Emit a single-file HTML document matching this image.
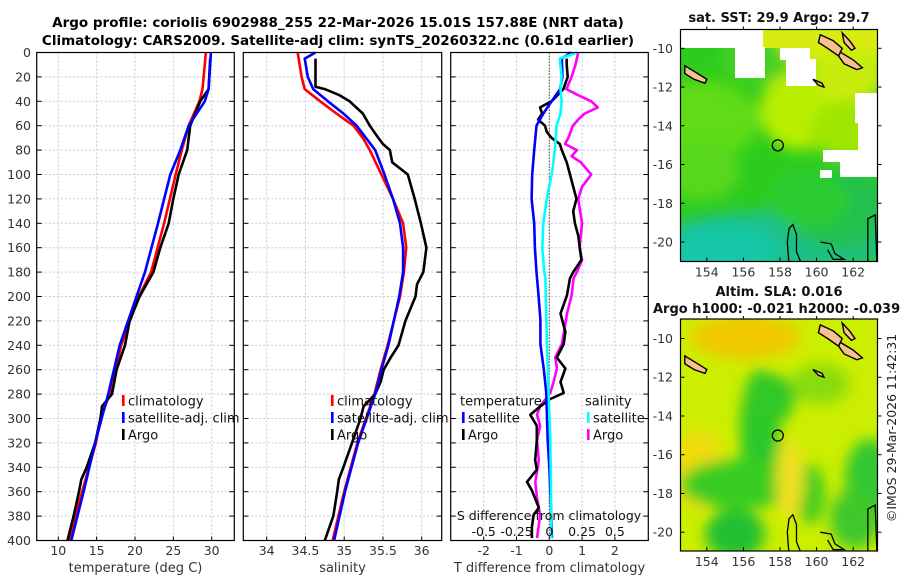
<!DOCTYPE html>
<html><head><meta charset="utf-8">
<style>
html,body{margin:0;padding:0;background:#fff;}
body{width:900px;height:580px;overflow:hidden;font-family:"Liberation Sans","DejaVu Sans",sans-serif;}
svg text{font-family:"DejaVu Sans","Liberation Sans",sans-serif;}
</style></head>
<body>
<svg id="fig" width="900" height="580" viewBox="0 0 900 580" xmlns="http://www.w3.org/2000/svg">
<defs>
<filter id="blur6" x="-30%" y="-30%" width="160%" height="160%"><feGaussianBlur stdDeviation="7"/></filter>
<clipPath id="clipTop"><rect x="680.5" y="29.5" width="197" height="232"/></clipPath>
<clipPath id="clipBot"><rect x="680.5" y="319" width="197" height="232"/></clipPath>
</defs>
<text x="338" y="27" font-size="13.5" font-weight="bold" text-anchor="middle">Argo profile: coriolis 6902988_255 22-Mar-2026 15.01S 157.88E (NRT data)</text>
<text x="338" y="45" font-size="13.5" font-weight="bold" text-anchor="middle">Climatology: CARS2009. Satellite-adj clim: synTS_20260322.nc (0.61d earlier)</text>
<g id="plots"></g>
<g id="maps"></g>
</svg>
<script>
// ---------- DATA ----------
const depthTicks = [0,20,40,60,80,100,120,140,160,180,200,220,240,260,280,300,320,340,360,380,400];
const tempTicks = [10,15,20,25,30];
const salTicks = [34,34.5,35,35.5,36];
const salTickLabels = ["34","34.5","35","35.5","36"];
const tdiffTicks = [-2,-1,0,1,2];
const sdiffTicks = [-0.5,-0.25,0,0.25,0.5];
const sdiffTickLabels = ["-0.5","-0.25","0","0.25","0.5"];

const tClimDepth = [0,30,40,60,80,100,140,180,200,240,280,300,320,360,400];
const tClimVal   = [29.25,28.8,28.4,27.0,26.1,25.3,23.8,22.1,20.5,18.2,16.7,15.5,14.9,13.1,11.4];
const tSatDepth  = [0,30,40,60,80,100,140,180,200,240,280,320,360,400];
const tSatVal    = [29.9,29.6,29.1,27.0,25.9,24.6,23.0,21.3,20.2,18.0,16.5,14.8,13.3,11.7];
const tArgoDepth = [5,30,40,60,80,100,120,140,160,180,200,220,240,260,280,290,300,320,340,350,360,380,400];
const tArgoVal   = [29.8,29.6,28.5,27.2,26.8,25.7,25.0,24.4,23.3,22.4,20.6,19.3,18.7,17.6,17.0,15.7,15.5,14.8,13.7,13.0,12.7,12.0,11.2];

const sClimDepth = [0,20,30,40,50,60,70,80,100,120,140,160,180,200,240,260,280,300,320,360,400];
const sClimVal   = [34.40,34.45,34.49,34.69,34.90,35.12,35.24,35.33,35.48,35.63,35.76,35.80,35.77,35.72,35.56,35.47,35.39,35.28,35.17,35.00,34.85];
const sSatDepth  = [0,5,20,30,40,50,60,80,100,120,140,160,180,200,240,260,280,300,320,360,400];
const sSatVal    = [34.63,34.49,34.53,34.60,34.79,34.99,35.16,35.40,35.52,35.63,35.72,35.76,35.76,35.71,35.57,35.48,35.40,35.29,35.18,35.01,34.87];
const sArgoDepth = [5,28,30,35,40,50,60,70,75,80,90,100,120,140,160,180,190,200,220,240,250,260,270,280,290,300,320,340,350,360,380,400];
const sArgoVal   = [34.63,34.63,34.75,34.94,35.07,35.24,35.33,35.44,35.50,35.59,35.62,35.82,35.91,35.99,36.06,36.02,35.94,35.92,35.79,35.70,35.60,35.51,35.47,35.40,35.25,35.21,35.10,34.99,34.93,34.91,34.86,34.75];

const dTSatDepth = [0,5,20,30,40,50,60,80,100,120,140,160,180,199,219,239,259,279,299,318,339,359,379,398];
const dTSatVal   = [0.66,0.38,0.4,0.33,0.07,-0.18,-0.39,-0.46,-0.52,-0.54,-0.46,-0.44,-0.39,-0.33,-0.27,-0.27,-0.17,-0.09,-0.07,-0.05,0,0.03,0.06,0.08];
const dTArgoDepth = [5,10,20,30,40,45,50,55,60,65,70,75,80,90,100,110,120,130,140,150,160,170,180,185,199,214,229,239,250,259,270,279,284,290,297,306,318,334,342,352,359,373,379,389,398];
const dTArgoVal   = [0.53,0.53,0.56,0.43,0.07,-0.28,-0.22,-0.34,-0.13,-0.08,0.07,0.32,0.38,0.53,0.63,0.73,0.83,0.73,0.78,0.88,0.93,0.98,0.73,0.63,0.54,0.34,0.49,0.44,0.23,0.49,0.34,0.44,0.03,-0.27,-0.58,-0.38,-0.38,-0.43,-0.38,-0.68,-0.53,-0.32,-0.48,-0.53,-0.53];
const dSSatDepth = [0,5,20,30,40,50,60,80,100,120,140,160,180,185,239,279,318,359,398];
const dSSatVal   = [0.21,0.08,0.094,0.085,0.094,0.085,0.056,0.043,0.018,-0.02,-0.046,-0.053,-0.038,-0.03,-0.018,-0.005,0.008,0.013,0.015];
const dSArgoDepth = [0,10,20,30,35,40,45,50,55,60,70,75,80,85,90,100,110,120,140,160,170,180,185,199,214,239,250,259,270,279,290,297,306,318,334,352,365,379,398];
const dSArgoVal   = [0.22,0.2,0.17,0.13,0.22,0.32,0.37,0.27,0.22,0.18,0.145,0.12,0.21,0.17,0.24,0.32,0.25,0.22,0.25,0.23,0.25,0.21,0.185,0.17,0.135,0.096,0.046,0.058,0.033,0.008,-0.07,-0.094,-0.07,-0.094,-0.08,-0.107,-0.094,-0.07,-0.094];

const latTicks = [-10,-12,-14,-16,-18,-20];
const lonTicks = [154,156,158,160,162];
const argoLon = 157.88, argoLat = -15.01;

// ---------- HELPERS ----------
const NS = "http://www.w3.org/2000/svg";
function mk(tag, attrs, parent){ const e=document.createElementNS(NS,tag); for(const k in attrs) e.setAttribute(k,attrs[k]); parent.appendChild(e); return e; }
const plots = document.getElementById('plots');
const maps = document.getElementById('maps');
const Y0=52.5, Y1=540.5;
function yD(d){ return Y0 + (d/400)*(Y1-Y0); }
function linScale(d0,d1,r0,r1){ return v => r0 + (v-d0)/(d1-d0)*(r1-r0); }

const panels = [
 {name:'temperature', x0:36.7, x1:234.3, sx: linScale(10,30,58.3,211.7), ticks:tempTicks, labels:tempTicks.map(String), xlabel:'temperature (deg C)'},
 {name:'salinity', x0:243.3, x1:441.7, sx: linScale(34,36,266.7,421.7), ticks:salTicks, labels:salTickLabels, xlabel:'salinity'},
 {name:'difference', x0:450.7, x1:648.3, sx: linScale(0,1,549.3,582.1), ticks:tdiffTicks, labels:tdiffTicks.map(String), xlabel:'T difference from climatology'}
];
const sDiffX = linScale(0,0.25,549.3,582.1);

panels.forEach((p,i)=>{
  const g = mk('g',{},plots);
  
  
  depthTicks.forEach(d=>{
    const l = mk('line',{x1:p.x0,x2:p.x1,y1:yD(d),y2:yD(d),stroke:'#c4c8e6','stroke-width':1,'stroke-dasharray':'2,2'},g);
    
    
  });
  p.ticks.forEach(t=>{
    const x=p.sx(t);
    const l = mk('line',{x1:x,x2:x,y1:Y0,y2:Y1,stroke:'#c4c8e6','stroke-width':1,'stroke-dasharray':'2,2'},g);
    
    
    const tk = mk('line',{x1:x,x2:x,y1:Y1,y2:Y1-4,stroke:'#000'},g);
    
    
  });
  p.ticks.forEach((t,k)=>{
    const tx = mk('text',{x:p.sx(t),y:555,'font-size':12.5,'text-anchor':'middle',fill:'#333'},g);
    
    
    tx.textContent = p.labels[k];
  });
  depthTicks.forEach(d=>{
    const a = mk('line',{x1:p.x0,x2:p.x0+5,y1:yD(d),y2:yD(d),stroke:'#000'},g);
    
    
    const b = mk('line',{x1:p.x1,x2:p.x1-5,y1:yD(d),y2:yD(d),stroke:'#000'},g);
    
    
    if(i===0){
      const t = mk('text',{x:31,y:yD(d)+4.5,'font-size':12.5,'text-anchor':'end',fill:'#333'},g);
      
      
      t.textContent = d;
    }
  });
  const xl = mk('text',{x:(p.x0+p.x1)/2,y:572,'font-size':13,'text-anchor':'middle',fill:'#333'},g);
  
  
  xl.textContent = p.xlabel;
  p.g = g;
});

function drawLine(g, depths, vals, sx, color, name, w){
  const pts = depths.map((d,k)=> sx(vals[k]).toFixed(1)+','+yD(d).toFixed(1)).join(' ');
  const pl = mk('polyline',{points:pts,fill:'none',stroke:color,'stroke-width':w||2.6,'stroke-linejoin':'round'},g);
  
  
}
const zl = mk('line',{x1:549.3,x2:549.3,y1:Y0,y2:Y1,stroke:'#5a4a2a','stroke-width':1,'stroke-dasharray':'1.5,1.5'},panels[2].g);



drawLine(panels[0].g,tClimDepth,tClimVal,panels[0].sx,'#f00','temperature-climatology-line');
drawLine(panels[0].g,tArgoDepth,tArgoVal,panels[0].sx,'#000','temperature-argo-line');
drawLine(panels[0].g,tSatDepth,tSatVal,panels[0].sx,'#00f','temperature-satellite-line');
drawLine(panels[1].g,sClimDepth,sClimVal,panels[1].sx,'#f00','salinity-climatology-line');
drawLine(panels[1].g,sArgoDepth,sArgoVal,panels[1].sx,'#000','salinity-argo-line');
drawLine(panels[1].g,sSatDepth,sSatVal,panels[1].sx,'#00f','salinity-satellite-line');
drawLine(panels[2].g,dSArgoDepth,dSArgoVal,sDiffX,'#f0f','salinity-argo-diff-line');
drawLine(panels[2].g,dTArgoDepth,dTArgoVal,panels[2].sx,'#000','temperature-argo-diff-line');
drawLine(panels[2].g,dTSatDepth,dTSatVal,panels[2].sx,'#00f','temperature-satellite-diff-line');
drawLine(panels[2].g,dSSatDepth,dSSatVal,sDiffX,'#0ff','salinity-satellite-diff-line');

panels.forEach(p=>{
  const r = mk('rect',{x:p.x0,y:Y0,width:p.x1-p.x0,height:Y1-Y0,fill:'none',stroke:'#000','stroke-width':1.2},p.g);
  
  
});

const sdTitle = mk('text',{x:549,y:520,'font-size':12.5,'text-anchor':'middle',fill:'#111'},panels[2].g);


sdTitle.textContent = 'S difference from climatology';
sdiffTicks.forEach((t,k)=>{
  const tx = mk('text',{x:sDiffX(t),y:536,'font-size':12.5,'text-anchor':'middle',fill:'#111'},panels[2].g);
  
  
  tx.textContent = sdiffTickLabels[k];
});

function legend(g,x,y,items,name){
  const lg = mk('g',{},g);
  
  
  items.forEach((it,k)=>{
    if(it[0]){
      const m = mk('rect',{x:x,y:y+k*17-6,width:2.6,height:11,fill:it[0]},lg);
      
      
    }
    const t = mk('text',{x:x+(it[0]?6:-2),y:y+k*17+4.5,'font-size':13,fill:'#111'},lg);
    
    
    t.textContent = it[1];
  });
}
legend(panels[0].g,122,401,[['#f00','climatology'],['#00f','satellite-adj. clim'],['#000','Argo']],'temperature-legend');
legend(panels[1].g,331,401,[['#f00','climatology'],['#00f','satellite-adj. clim'],['#000','Argo']],'salinity-legend');
legend(panels[2].g,462,401,[[null,'temperature'],['#00f','satellite'],['#000','Argo']],'temperature-diff-legend');
legend(panels[2].g,587,401,[[null,'salinity'],['#0ff','satellite'],['#f0f','Argo']],'salinity-diff-legend');

// ---------- MAPS ----------
const lonX = linScale(158,160,780,816.6);
function buildMap(top, y10, clipId, title, kind){
  const g = mk('g',{},maps);
  
  
  const latY = lat => y10 + (-10-lat)*19.37;
  const inner = mk('g',{'clip-path':'url(#'+clipId+')'},g);
  const x0=680.5, x1=877.5, yb=top+232;
  let blobs;
  if(kind==='sst'){
    mk('rect',{x:x0,y:top,width:197,height:232,fill:'#2ccc1e'},inner);
    blobs = [
      [700,120,60,40,'#5fdc14'],[760,60,40,25,'#44d020'],[800,110,40,40,'#b8ee00'],[840,45,60,25,'#d6ec10'],
      [850,75,35,30,'#c8ec10'],[850,130,40,30,'#9ee600'],[700,170,40,30,'#58d81a'],[780,240,120,30,'#1cc088'],[720,250,60,25,'#18c8a8'],
      [840,210,50,40,'#20c050'],[810,200,40,30,'#2ccc30']
    ];
  } else {
    mk('rect',{x:x0,y:top,width:197,height:232,fill:'#ccee00'},inner);
    blobs = [
      [745,top+18,55,22,'#f0c800'],[700,top+150,25,40,'#f0dc10'],[760,top+110,20,60,'#2cc82a'],
      [740,top+165,60,25,'#38cc22'],[735,top+215,30,25,'#22c030'],[870,top+160,25,40,'#30c830'],
      [820,top+65,30,20,'#88dc10'],[810,top+175,15,30,'#40cc20'],[790,top+160,14,40,'#f0e020'],[855,top+200,25,30,'#40c82a'],
      [770,top+80,25,25,'#30c828']
    ];
  }
  const bg = mk('g',{filter:'url(#blur6)'},inner);
  blobs.forEach(b=>{
    const e = mk('ellipse',{cx:b[0],cy:b[1],rx:b[2],ry:b[3],fill:b[4]},bg);
    
    
  });
  if(kind==='sst'){
    const yb2 = mk('rect',{x:763,y:29,width:115,height:19,fill:'#d8ec12'},inner);
    
    
    const holes=[[680,28,83,20],[735,47,30,31],[780,48,30,12],[786,59,30,27],[855,93,23,30],[858,123,20,30],[823,150,55,12],[840,160,38,17],[820,170,12,8]];
    const d = holes.map(h=>'M'+h[0]+' '+h[1]+'h'+h[2]+'v'+h[3]+'h'+(-h[2])+'Z').join(' ');
    const hp = mk('path',{d:d,fill:'#ffffff'},inner);
    
    
  }
  const isl = [
    [[160.2,-9.3],[160.9,-9.6],[161.4,-10.0],[161.2,-10.4],[160.6,-10.0],[160.1,-9.7]],
    [[161.3,-10.2],[162.0,-10.6],[162.5,-11.0],[162.2,-11.1],[161.5,-10.8],[161.2,-10.4]],
    [[161.4,-9.2],[161.8,-9.6],[162.1,-10.0],[161.9,-10.1],[161.5,-9.7]],
    [[152.8,-10.9],[153.5,-11.3],[154.0,-11.6],[153.9,-11.8],[153.3,-11.6],[152.8,-11.3]],
    [[159.8,-11.6],[160.3,-11.8],[160.4,-12.0],[160.1,-11.9]]
  ];
  isl.forEach(poly=>{
    const p = mk('polygon',{points:poly.map(q=>lonX(q[0]).toFixed(1)+','+latY(q[1]).toFixed(1)).join(' '),fill:'#f7c08e',stroke:'#000','stroke-width':1.4},inner);
    
    
  });
  const reefs = [
    [[158.5,-21.2],[158.4,-20.0],[158.5,-19.3],[158.7,-19.1],[158.9,-19.6],[158.9,-20.5],[159.2,-21.2]],
    [[160.2,-20.0],[160.8,-20.1],[161.0,-20.6],[161.5,-20.9],[160.9,-20.9],[160.6,-20.4]],
    [[162.8,-21.2],[162.8,-18.8],[163.2,-18.6],[163.3,-21.2]]
  ];
  reefs.forEach(poly=>{
    const p = mk('polyline',{points:poly.map(q=>lonX(q[0]).toFixed(1)+','+latY(q[1]).toFixed(1)).join(' '),fill:'none',stroke:'#000','stroke-width':1.3},inner);
    
    
  });
  const c = mk('circle',{cx:lonX(argoLon),cy:latY(argoLat),r:5.5,fill:'none',stroke:'#000','stroke-width':1.3},inner);
  
  
  if(kind==='sst'){
    const tl = mk('rect',{x:681,y:30,width:82,height:18,fill:'#ffffff'},inner);
    
    
  }
  const fr = mk('rect',{x:x0,y:top,width:197,height:232,fill:'none',stroke:'#000','stroke-width':1.2},g);
  
  
  latTicks.forEach(l=>{
    const y=latY(l);
    const a = mk('line',{x1:x0,x2:x0+4,y1:y,y2:y,stroke:'#000'},g);
    
    
    const b = mk('line',{x1:x1,x2:x1+4,y1:y,y2:y,stroke:'#000'},g);
    
    
    const t = mk('text',{x:673,y:y+4.5,'font-size':12.5,'text-anchor':'end',fill:'#333'},g);
    
    
    t.textContent = l;
  });
  lonTicks.forEach(l=>{
    const x=lonX(l);
    const a = mk('line',{x1:x,x2:x,y1:yb,y2:yb-4,stroke:'#000'},g);
    
    
    const b = mk('line',{x1:x,x2:x,y1:top,y2:top-3,stroke:'#000'},g);
    
    
    const t = mk('text',{x:x,y:yb+15,'font-size':12.5,'text-anchor':'middle',fill:'#333'},g);
    
    
    t.textContent = l;
  });
  title.forEach((tt,k)=>{
    const t = mk('text',{x:tt[0],y:tt[1],'font-size':13,'font-weight':'bold','text-anchor':tt[2],fill:'#111'},g);
    
    
    t.textContent = tt[3];
  });
}
buildMap(29.5,48.3,'clipTop',[[779,22,'middle','sat. SST: 29.9 Argo: 29.7']],'sst');
buildMap(319,338.5,'clipBot',[[779,296,'middle','Altim. SLA: 0.016'],[653,313,'start','Argo h1000: -0.021 h2000: -0.039']],'sla');

const cr = mk('text',{x:0,y:0,'font-size':12.5,'text-anchor':'middle',fill:'#222',transform:'translate(896,428) rotate(-90)'},maps);


cr.textContent = '©IMOS 29-Mar-2026 11:42:31';
</script>
</body></html>
